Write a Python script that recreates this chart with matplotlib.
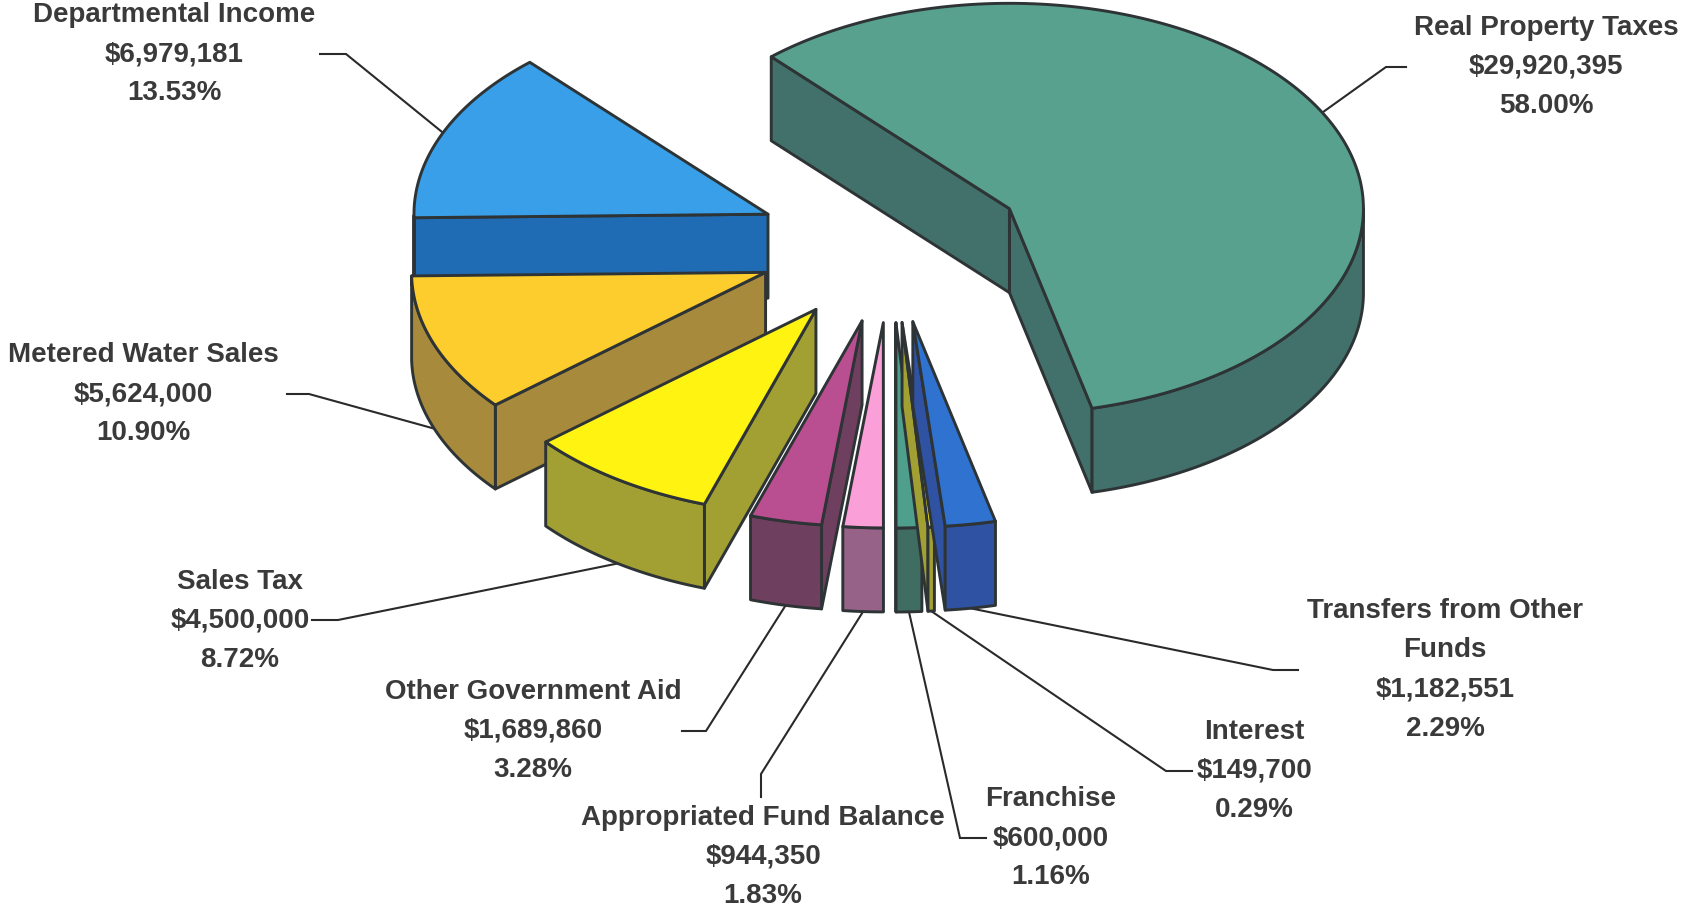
import numpy as np
import matplotlib
matplotlib.use("Agg")
import matplotlib.pyplot as plt
from matplotlib.patches import Polygon

# ---- data ----
names = ["Real Property Taxes", "Departmental Income", "Metered Water Sales", "Sales Tax",
         "Other Government Aid", "Appropriated Fund Balance", "Franchise", "Interest",
         "Transfers from Other\nFunds"]
values = [29920395, 6979181, 5624000, 4500000, 1689860, 944350, 600000, 149700, 1182551]
amounts = ["$29,920,395", "$6,979,181", "$5,624,000", "$4,500,000", "$1,689,860",
           "$944,350", "$600,000", "$149,700", "$1,182,551"]
percents = ["58.00%", "13.53%", "10.90%", "8.72%", "3.28%", "1.83%", "1.16%", "0.29%", "2.29%"]

# ---- styles / layout ----
top_colors = ["#59a18f", "#389fe8", "#fdcd2e", "#fff312", "#b94f90", "#fa9fd8", "#4f9f8d", "#fff312", "#2f72d0"]
side_colors = ["#41716a", "#1f6cb4", "#a78a3c", "#a3a033", "#6f3f60", "#966288", "#3f6d62", "#a3a033", "#2f52a2"]
text_centers = [(1546, 67), (174, 54), (143, 394), (240, 621), (533, 731), (763, 857),
                (1051, 838), (1254, 771), (1445, 670)]
elbows = [(1386, 67), (346, 54), (309, 394), (338, 620), (706, 731), (761, 774),
          (960, 838), (1166, 771), (1273, 670)]
stubs = [(1406, 67), (320, 54), (287, 394), (312, 620), (682, 731), (761, 797),
         (986, 838), (1192, 771), (1298, 670)]

CX, CY, R, K, EXPLODE, DEPTH = 891.0, 245.0, 354.0, 0.58, 134.0, 84.0
START = -76.5
EDGE = "#2e3436"
TEXT = "#3a3a3a"


def project(cx, cy, deg, r=R):
    a = np.radians(deg)
    return cx + r * np.cos(a), cy - r * K * np.sin(a)


fig = plt.figure(figsize=(16.85, 9.11), dpi=100)
ax = fig.add_axes([0, 0, 1, 1])
ax.set_xlim(0, 1685)
ax.set_ylim(911, 0)
ax.axis("off")

shares = np.array(values, dtype=float) / np.sum(values) * 360.0
bounds = START + np.concatenate([[0], np.cumsum(shares)])

# leader lines, below the slices
for i in range(len(values)):
    t0, t1 = bounds[i], bounds[i + 1]
    mid = (t0 + t1) / 2
    ox, oy = project(CX, CY, mid, EXPLODE)
    px, py = project(ox, oy, mid)
    if np.sin(np.radians(mid)) < 0:
        py += DEPTH
    ax.plot([px, elbows[i][0], stubs[i][0]], [py, elbows[i][1], stubs[i][1]],
            color="#2a2a2a", lw=1.5, zorder=1, solid_joinstyle="miter")

z = 2
for i in range(len(values)):
    t0, t1 = bounds[i], bounds[i + 1]
    mid = (t0 + t1) / 2
    ox, oy = project(CX, CY, mid, EXPLODE)
    style = dict(edgecolor=EDGE, linewidth=2.1, joinstyle="round")
    # cut faces turned toward the viewer
    for edge_deg, normal in ((t0, t0 - 90), (t1, t1 + 90)):
        if np.sin(np.radians(normal)) < 0:
            ex, ey = project(ox, oy, edge_deg)
            ax.add_patch(Polygon([(ox, oy), (ex, ey), (ex, ey + DEPTH), (ox, oy + DEPTH)],
                                 facecolor=side_colors[i], zorder=z, **style))
            z += 1
    # outer rim, front half only
    arc = np.linspace(t0, t1, max(int(t1 - t0) * 3, 12))
    front = arc[np.sin(np.radians(arc)) < 0]
    if front.size > 1:
        fx, fy = project(ox, oy, front)
        pts = list(zip(fx, fy)) + list(zip(fx[::-1], fy[::-1] + DEPTH))
        ax.add_patch(Polygon(pts, facecolor=side_colors[i], zorder=z, **style))
        z += 1
    # top face
    ax_, ay_ = project(ox, oy, arc)
    ax.add_patch(Polygon([(ox, oy)] + list(zip(ax_, ay_)), facecolor=top_colors[i], zorder=z, **style))
    z += 1

for i in range(len(values)):
    ax.text(text_centers[i][0], text_centers[i][1], f"{names[i]}\n{amounts[i]}\n{percents[i]}",
            ha="center", va="center", family="Liberation Sans", weight="bold",
            fontsize=20, color=TEXT, linespacing=1.66, zorder=100)

fig.savefig("out.png", dpi=100, facecolor="white")
